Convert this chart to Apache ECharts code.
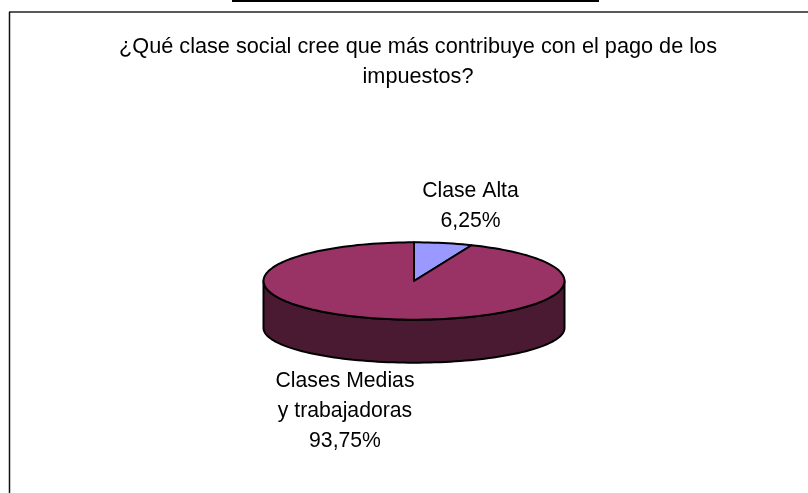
<!DOCTYPE html>
<html>
<head>
<meta charset="utf-8">
<style>html,body{margin:0;padding:0;background:#fff}#c{width:808px;height:493px}</style>
<script src="https://cdn.jsdelivr.net/npm/echarts@6/dist/echarts.min.js"></script>
</head>
<body>
<div id="c"></div>
<script>
const titleLines = ["¿Qué clase social cree que más contribuye con el pago de los", "impuestos?"];
const categories = ["Clase Alta", "Clases Medias\ny trabajadoras"];
const values = [6.25, 93.75];
const valueLabels = ["6,25%", "93,75%"];
const topColors = ["#9999FF", "#993366"];
const sideColors = ["#4D4D80", "#4A1A33"];

// Layout of the tilted pie
const CX = 414, CY = 281, RX = 150.5, RY = 38.7;
const LOWER_CY = 328, LOWER_RY = 34.7;
const labelPos = [[470.5, 206.5], [345, 411.5]];
const total = values.reduce((a, b) => a + b, 0);

const pt = (deg, cy, ry) => {
  const r = deg * Math.PI / 180;
  return [CX + RX * Math.sin(r), cy - ry * Math.cos(r)];
};
const arc = (a, b, cy, ry) => {
  const out = [];
  const n = Math.max(2, Math.ceil(Math.abs(b - a) / 2));
  for (let i = 0; i <= n; i++) out.push(pt(a + (b - a) * i / n, cy, ry));
  return out;
};

function renderSlice(params, api) {
  const i = params.dataIndex;
  let before = 0;
  for (let k = 0; k < i; k++) before += values[k];
  const a0 = before / total * 360;
  const a1 = (before + api.value(1)) / total * 360;
  const children = [];
  const s0 = Math.max(a0, 90), s1 = Math.min(a1, 270);
  const line = { stroke: "#000", lineWidth: 2, lineJoin: "round" };
  if (s1 > s0) {
    children.push({
      type: "polygon",
      shape: { points: arc(s0, s1, CY, RY).concat(arc(s1, s0, LOWER_CY, LOWER_RY)) },
      style: Object.assign({ fill: sideColors[i] }, line)
    });
  }
  children.push({
    type: "polygon",
    shape: { points: [[CX, CY]].concat(arc(a0, a1, CY, RY)) },
    style: Object.assign({ fill: topColors[i] }, line)
  });
  children.push({
    type: "text",
    x: labelPos[i][0],
    y: labelPos[i][1],
    style: {
      text: categories[i] + "\n" + valueLabels[i],
      fill: "#000",
      font: "21.2px 'Liberation Sans', Arial, sans-serif",
      lineHeight: 30,
      align: "center",
      verticalAlign: "middle"
    }
  });
  return { type: "group", children };
}

const chart = echarts.init(document.getElementById("c"), null, { renderer: "canvas" });
chart.setOption({
  animation: false,
  backgroundColor: "#fff",
  title: {
    text: titleLines.join("\n"),
    left: 413,
    top: 27,
    textAlign: "center",
    textStyle: {
      color: "#000",
      fontWeight: "normal",
      fontFamily: "'Liberation Sans', Arial, sans-serif",
      fontSize: 21.7,
      lineHeight: 30
    }
  },
  graphic: [
    { type: "rect", shape: { x: 232, y: 0, width: 367, height: 2 }, style: { fill: "#000" } },
    { type: "line", shape: { x1: 9, y1: 12, x2: 808, y2: 12 }, style: { stroke: "#222", lineWidth: 1.5 } },
    { type: "line", shape: { x1: 9.5, y1: 12, x2: 9.5, y2: 493 }, style: { stroke: "#111", lineWidth: 1.5 } }
  ],
  series: [{
    type: "custom",
    coordinateSystem: "none",
    renderItem: renderSlice,
    data: categories.map((c, i) => [c, values[i]])
  }]
});
</script>
</body>
</html>
